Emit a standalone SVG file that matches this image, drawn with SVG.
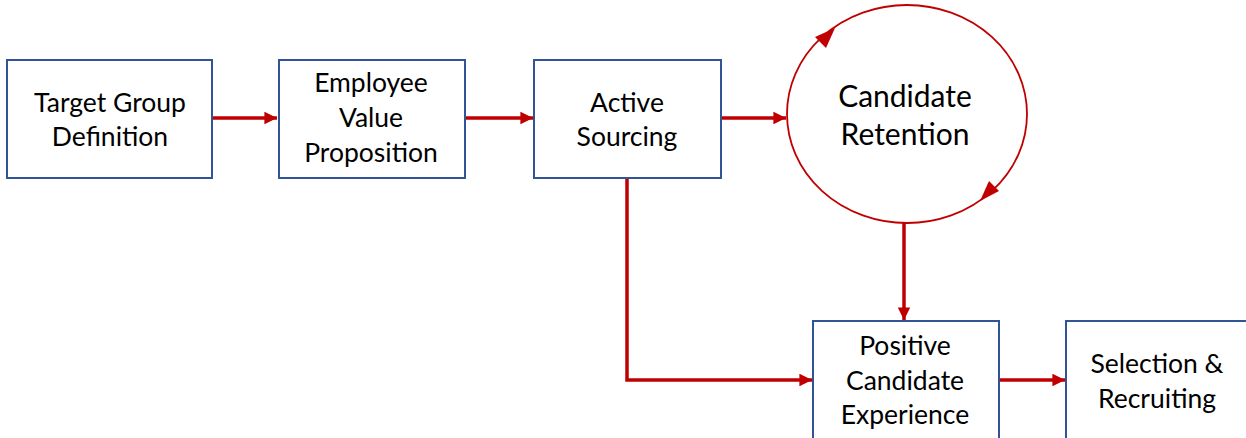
<svg xmlns="http://www.w3.org/2000/svg" width="1246" height="438" viewBox="0 0 1246 438">
  <style>
    .box { fill: #ffffff; stroke: #2F5597; stroke-width: 2; }
    .lbl { font-family: Lato, "Open Sans", "Liberation Sans", sans-serif; font-size: 26.5px; fill: #000000; text-anchor: middle; }
    .big { font-size: 30px; }
    .wire { fill: none; stroke: #C00000; stroke-width: 3.5; }
    .loop { fill: #ffffff; stroke: #C00000; stroke-width: 1.8; }
    .tip { fill: #C00000; }
  </style>
  <defs>
    <marker id="head" viewBox="0 0 10 10" refX="10" refY="5" markerWidth="4" markerHeight="3.6" markerUnits="strokeWidth" orient="auto">
      <path d="M0,0 L10,5 L0,10 Z" fill="#C00000"/>
    </marker>
  </defs>

  <!-- connectors -->
  <g id="connectors">
    <path class="wire" d="M212,118 H277" marker-end="url(#head)"/>
    <path class="wire" d="M465,118 H533" marker-end="url(#head)"/>
    <path class="wire" d="M721,118 H786" marker-end="url(#head)"/>
    <path class="wire" d="M904,223 V320" marker-end="url(#head)"/>
    <path class="wire" d="M627,178 V380 H812" marker-end="url(#head)"/>
    <path class="wire" d="M999,380 H1065" marker-end="url(#head)"/>
  </g>

  <g id="target-group">
    <rect class="box" x="7" y="60" width="205" height="118"/>
    <text class="lbl" x="110" y="112">Target Group</text>
    <text class="lbl" x="110" y="146">Definition</text>
  </g>

  <g id="employee-value">
    <rect class="box" x="279" y="60" width="186" height="118"/>
    <text class="lbl" x="371" y="92">Employee</text>
    <text class="lbl" x="371" y="127">Value</text>
    <text class="lbl" x="371" y="162">Proposition</text>
  </g>

  <g id="active-sourcing">
    <rect class="box" x="534" y="60" width="187" height="118"/>
    <text class="lbl" x="627" y="112">Active</text>
    <text class="lbl" x="627" y="146">Sourcing</text>
  </g>

  <g id="candidate-retention">
    <ellipse class="loop" cx="907" cy="114" rx="120" ry="109"/>
    <polygon class="tip" points="835,28 826,48 815,37"/>
    <polygon class="tip" points="980,201 999,191 989,181"/>
    <text class="lbl big" x="905" y="107">Candidate</text>
    <text class="lbl big" x="905" y="145">Retention</text>
  </g>

  <g id="candidate-experience">
    <rect class="box" x="813" y="321" width="186" height="130"/>
    <text class="lbl" x="905" y="355">Positive</text>
    <text class="lbl" x="905" y="390">Candidate</text>
    <text class="lbl" x="905" y="424">Experience</text>
  </g>

  <g id="selection-recruiting">
    <rect class="box" x="1066" y="321" width="190" height="130"/>
    <text class="lbl" x="1157" y="373">Selection &amp;</text>
    <text class="lbl" x="1157" y="408">Recruiting</text>
  </g>
</svg>
